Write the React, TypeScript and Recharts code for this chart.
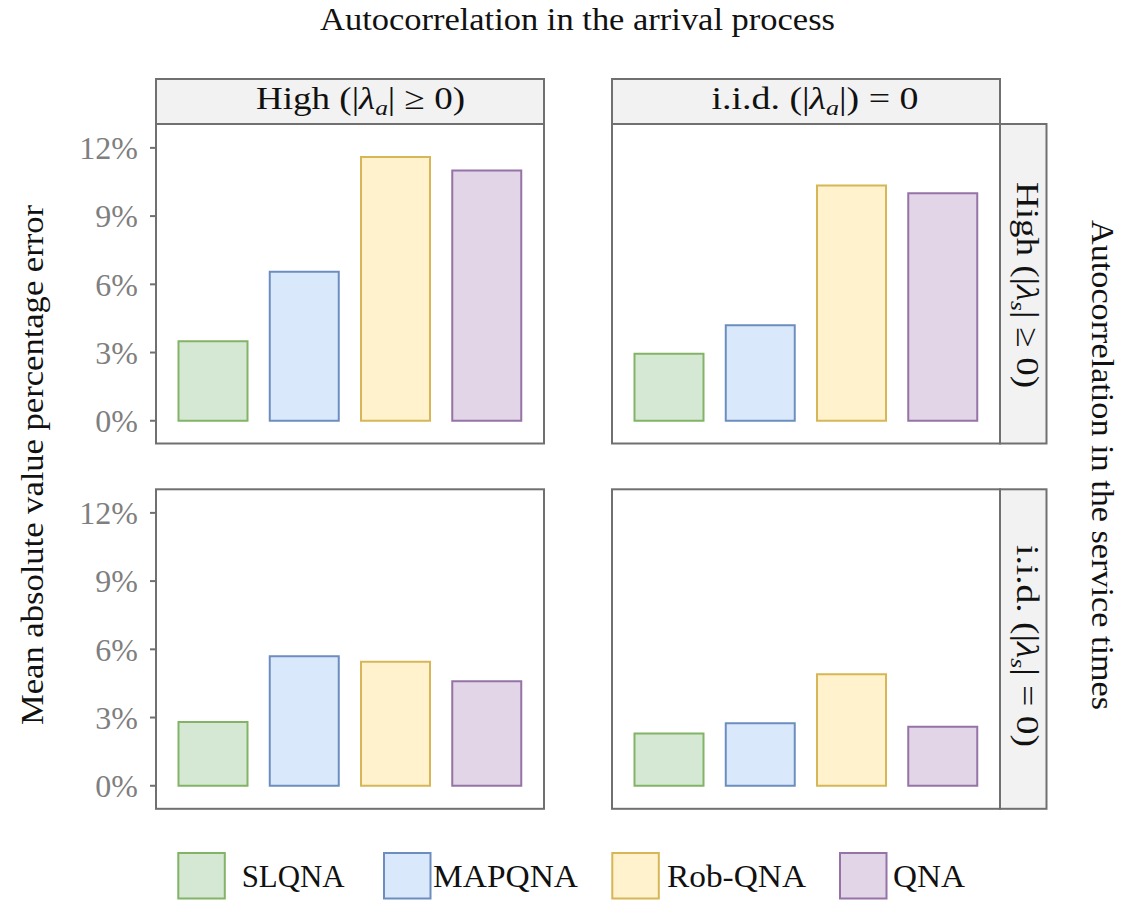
import React from 'react';
import { BarChart, Bar, XAxis, YAxis, Cell } from 'recharts';

// ---- data ----
const methods = ['SLQNA', 'MAPQNA', 'Rob-QNA', 'QNA'];
const fills = ['#d5e8d4', '#dae8fc', '#fff2cc', '#e1d5e7'];
const strokes = ['#82b366', '#6c8ebf', '#d6b656', '#9673a6'];
// arrival autocorrelation x service autocorrelation
const arrHighSrvHigh = [3.5, 6.55, 11.6, 11.0];
const arrIidSrvHigh = [2.95, 4.2, 10.35, 10.0];
const arrHighSrvIid = [2.8, 5.7, 5.45, 4.6];
const arrIidSrvIid = [2.3, 2.75, 4.9, 2.6];
const yTicks = [0, 3, 6, 9, 12];
const yDomain = [-1, 13.05];

const FONT = '"Liberation Serif", "Times New Roman", serif';
const BORDER = '#707070';
const STRIP_BG = '#f2f2f2';
const INK = '#111111';

const toRows = (vals: number[]) => methods.map((m, i) => ({ name: m, v: vals[i] }));

const PANEL_W = 388;
const PANEL_H = 319.5;
const YAXIS_W = 90;

function Panel({ vals, left, top, showY }: { vals: number[]; left: number; top: number; showY: boolean }) {
  const w = PANEL_W + (showY ? YAXIS_W : 0);
  return (
    <div style={{ position: 'absolute', left: left - (showY ? YAXIS_W : 0), top, width: w, height: PANEL_H }}>
      <BarChart width={w} height={PANEL_H} data={toRows(vals)} margin={{ top: 0, right: 0, bottom: 0, left: 0 }}>
        <XAxis dataKey="name" hide padding={{ left: 11.5, right: 11.5 }} />
        <YAxis
          type="number"
          domain={yDomain}
          allowDataOverflow
          ticks={yTicks}
          hide={!showY}
          width={YAXIS_W}
          axisLine={false}
          tickSize={6}
          tickMargin={12}
          tickLine={{ stroke: BORDER, strokeWidth: 2 }}
          tick={{ fill: '#7f7f7f', fontSize: 32, fontFamily: FONT }}
          tickFormatter={(v: number) => `${v}%`}
        />
        <Bar dataKey="v" barSize={69} isAnimationActive={false}>
          {methods.map((m, i) => (
            <Cell key={m} fill={fills[i]} stroke={strokes[i]} strokeWidth={2} />
          ))}
        </Bar>
      </BarChart>
    </div>
  );
}

function MathLabel({ x, y, pre, sub, post, len, rotate }: { x: number; y: number; pre: string; sub: string; post: string; len: number; rotate?: number }) {
  return (
    <text
      x={x}
      y={y}
      textAnchor="middle"
      fontFamily={FONT}
      fontSize={32}
      fill={INK}
      textLength={len}
      lengthAdjust="spacingAndGlyphs"
      transform={rotate ? `rotate(${rotate}, ${x}, ${y})` : undefined}
    >
      {pre}
      <tspan fontStyle="italic">λ</tspan>
      <tspan fontStyle="italic" fontSize={22} dy={6}>{sub}</tspan>
      <tspan dy={-6}>{post}</tspan>
    </text>
  );
}

export default function App() {
  const L1 = 156, L2 = 612, T1 = 124, T2 = 489.3;
  const legendX = [178.3, 384, 612.3, 840];
  const legendTextX = [241.7, 433, 667, 893];
  const legendLen = [103, 145, 139, 72];
  return (
    <div style={{ position: 'absolute', left: 0, top: 0, width: 1122, height: 900, background: '#fff', overflow: 'hidden' }}>
      <Panel vals={arrHighSrvHigh} left={L1} top={T1} showY />
      <Panel vals={arrIidSrvHigh} left={L2} top={T1} showY={false} />
      <Panel vals={arrHighSrvIid} left={L1} top={T2} showY />
      <Panel vals={arrIidSrvIid} left={L2} top={T2} showY={false} />
      <svg width={1122} height={900} style={{ position: 'absolute', left: 0, top: 0, pointerEvents: 'none' }}>
        {/* panel borders */}
        {[[L1, T1], [L2, T1], [L1, T2], [L2, T2]].map(([x, y], i) => (
          <rect key={i} x={x} y={y} width={PANEL_W} height={PANEL_H} fill="none" stroke={BORDER} strokeWidth={2} />
        ))}
        {/* top strips */}
        <rect x={L1} y={79} width={PANEL_W} height={45} fill={STRIP_BG} stroke={BORDER} strokeWidth={2} />
        <rect x={L2} y={79} width={PANEL_W} height={45} fill={STRIP_BG} stroke={BORDER} strokeWidth={2} />
        {/* right strips */}
        <rect x={1000} y={T1} width={46.5} height={PANEL_H} fill={STRIP_BG} stroke={BORDER} strokeWidth={2} />
        <rect x={1000} y={T2} width={46.5} height={PANEL_H} fill={STRIP_BG} stroke={BORDER} strokeWidth={2} />

        <MathLabel x={360.5} y={109} pre="High (|" sub="a" post="| ≥ 0)" len={209} />
        <MathLabel x={815} y={109} pre="i.i.d. (|" sub="a" post="|) = 0" len={207} />
        <MathLabel x={1016.5} y={285} pre="High (|" sub="s" post="| ≥ 0)" len={206} rotate={90} />
        <MathLabel x={1016.5} y={646} pre="i.i.d. (|" sub="s" post="| = 0)" len={202} rotate={90} />

        {/* titles */}
        <text x={577.5} y={30} textAnchor="middle" fontFamily={FONT} fontSize={31} fill={INK} textLength={515} lengthAdjust="spacingAndGlyphs">
          Autocorrelation in the arrival process
        </text>
        <text x={43} y={465} textAnchor="middle" fontFamily={FONT} fontSize={31} fill={INK} textLength={520} lengthAdjust="spacingAndGlyphs" transform="rotate(-90, 43, 465)">
          Mean absolute value percentage error
        </text>
        <text x={1092} y={465} textAnchor="middle" fontFamily={FONT} fontSize={31} fill={INK} textLength={490} lengthAdjust="spacingAndGlyphs" transform="rotate(90, 1092, 465)">
          Autocorrelation in the service times
        </text>

        {/* legend */}
        {methods.map((m, i) => (
          <g key={m}>
            <rect x={legendX[i]} y={853} width={46.5} height={45.5} fill={fills[i]} stroke={strokes[i]} strokeWidth={2} />
            <text x={legendTextX[i]} y={887} fontFamily={FONT} fontSize={31} fill={INK} textLength={legendLen[i]} lengthAdjust="spacingAndGlyphs">
              {m}
            </text>
          </g>
        ))}
      </svg>
    </div>
  );
}
